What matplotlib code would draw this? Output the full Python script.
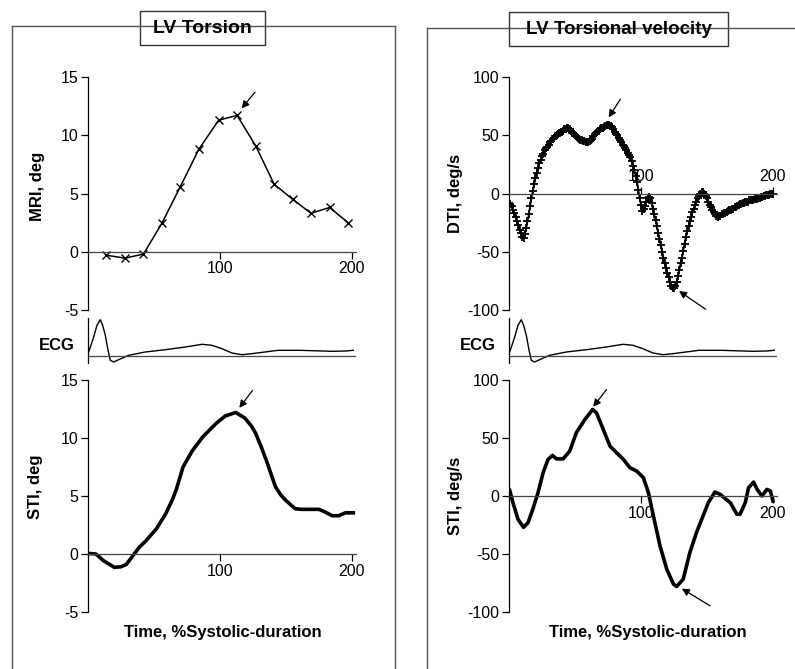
import numpy as np
import matplotlib
matplotlib.use('Agg')
import matplotlib.pyplot as plt
from matplotlib.patches import Rectangle

plt.rcParams['font.family'] = ['Liberation Sans', 'DejaVu Sans']
plt.rcParams['axes.unicode_minus'] = False

W, H = 795, 669

# ---- data ----
mri_x = [14, 28, 42, 56, 70, 84, 99, 113, 127, 141, 155, 169, 183, 197]
mri_y = [-0.3, -0.55, -0.2, 2.45, 5.6, 8.8, 11.3, 11.7, 9.1, 5.8, 4.5, 3.3, 3.8, 2.5]

sti_deg_x = [0, 6, 12, 20, 25, 29, 34, 39, 44, 52, 59, 64, 67, 72, 79, 87, 97,
             104, 112, 119, 124, 127, 131, 135, 142, 146, 150, 157, 162, 167,
             175, 180, 185, 190, 195, 201]
sti_deg_y = [0.05, 0.0, -0.6, -1.15, -1.1, -0.9, -0.15, 0.6, 1.15, 2.2, 3.5,
             4.7, 5.6, 7.5, 8.9, 10.1, 11.25, 11.9, 12.2, 11.7, 11.0, 10.4,
             9.3, 8.1, 5.8, 5.1, 4.6, 3.9, 3.85, 3.85, 3.85, 3.6, 3.3, 3.3,
             3.55, 3.55]

# DTI torsional velocity, one sample per 1 % of systolic duration
dti_x = np.arange(1, 201)
dti_y = [-9, -11, -14, -17, -20, -24, -27, -31, -34, -37,
         -38, -35, -30, -24, -18, -11, -4, 2, 8, 13,
         18, 22, 26, 29, 32, 34, 37, 39, 40, 42,
         44, 45, 47, 48, 49, 50, 51, 52, 52, 53,
         54, 55, 55, 56, 56, 55, 54, 52, 51, 50,
         49, 48, 47, 46, 46, 45, 45, 44, 44, 44,
         45, 46, 47, 49, 51, 52, 53, 54, 55, 56,
         56, 57, 58, 59, 59, 59, 58, 57, 55, 53,
         51, 50, 48, 46, 44, 42, 41, 39, 37, 35,
         33, 31, 28, 24, 20, 15, 10, 3, -4, -10,
         -15, -13, -11, -7, -4, -3, -4, -8, -13, -18,
         -23, -28, -34, -39, -44, -50, -55, -60, -64, -68,
         -72, -76, -79, -81, -81, -79, -76, -71, -66, -60,
         -55, -49, -43, -37, -32, -28, -24, -20, -16, -13,
         -10, -7, -4, -2, 0, 1, 1, 0, -2, -4,
         -7, -10, -12, -14, -16, -18, -19, -20, -19, -19,
         -18, -18, -17, -17, -16, -15, -14, -14, -13, -13,
         -12, -12, -11, -10, -9, -9, -8, -8, -7, -7,
         -7, -6, -6, -6, -6, -5, -5, -5, -4, -4,
         -3, -3, -2, -2, -1, -1, -1, 0, 0, 0]

sti_vel_x = [0.5, 3, 6.8, 11, 14.4, 18, 22, 25.8, 29.6, 33, 36, 41, 46, 51,
             57.5, 61, 63.3, 66.3, 71.4, 76.5, 81.5, 86.6, 91.6, 96.7, 101.8,
             105.6, 109.4, 114.4, 119.5, 124.6, 127, 132, 137, 142, 147, 151,
             156, 160, 163.8, 167.6, 172.7, 175, 179, 181.5, 185.3, 188,
             191.6, 195.4, 198, 200]
sti_vel_y = [5, -5.7, -20, -27, -23, -11.5, 2.9, 20, 31.6, 35, 32, 32, 38.7,
             54.5, 66, 71, 74.6, 71.7, 57.4, 43, 37.3, 31.6, 24.4, 21.5, 15.8,
             2.9, -17.2, -43, -63, -76, -78, -71.7, -48.8, -31.6, -17.2, -5.7,
             3.4, 1.4, -2.3, -5.7, -15.8, -15.8, -5.7, 7.2, 12, 5.7, 0, 5.7,
             4.3, -4.3]

ecg_x = [0, 1.8, 4.3, 6.8, 9.3, 11.1, 13.1, 15.2, 16.9, 19.4, 23.2, 30.8,
         43.4, 58.6, 73.7, 86.4, 93.9, 101.5, 109, 116.7, 124, 134, 144,
         150, 160, 185, 195, 201]
ecg_y = [2.3, 9, 19, 30.7, 36.3, 30.7, 20.7, 5.7, -4.3, -6, -3.7, 0.7,
         4, 6.3, 9, 11.7, 10.7, 7.3, 3, 1.3, 2.3, 4, 5.7, 5.7, 5.7, 4.7,
         5, 5.7]

fig = plt.figure(figsize=(W / 100, H / 100), dpi=100)


def px_axes(left, top, width, height):
    return fig.add_axes([left / W, 1 - (top + height) / H, width / W, height / H])


XW = 264 / 200 * 203  # pixel width for xlim 0..203
LBL = dict(fontsize=12, fontweight='bold')


def setup(ax, ylim, yticks, labels_top=False):
    ax.set_xlim(0, 203)
    ax.set_ylim(*ylim)
    ax.patch.set_alpha(0)
    ax.spines['right'].set_visible(False)
    ax.spines['left'].set_linewidth(0.9)
    if labels_top:
        ax.spines['bottom'].set_visible(False)
        ax.spines['top'].set_position(('data', 0))
        ax.spines['top'].set_linewidth(0.9)
        ax.spines['top'].set_color('#444444')
        ax.xaxis.tick_top()
    else:
        ax.spines['top'].set_visible(False)
        ax.spines['bottom'].set_position(('data', 0))
        ax.spines['bottom'].set_linewidth(0.9)
        ax.spines['bottom'].set_color('#444444')
    ax.set_xticks([100, 200])
    ax.set_yticks(yticks)
    ax.tick_params(labelsize=11.5, length=5, width=0.9, pad=2)


def arrow(ax, head, tail):
    ax.annotate('', xy=head, xytext=tail,
                arrowprops=dict(arrowstyle='-|>', lw=0.9, color='k',
                                mutation_scale=11, shrinkA=0, shrinkB=0),
                annotation_clip=False)


def ecg_axes(left):
    ax = px_axes(left, 318, XW, 45)
    ax.plot(ecg_x, ecg_y, color='k', lw=1.0)
    ax.axhline(0, color='#444444', lw=0.9)
    ax.set_xlim(0, 203)
    ax.set_ylim(-7, 38)
    for s in ['top', 'right', 'bottom']:
        ax.spines[s].set_visible(False)
    ax.spines['left'].set_linewidth(0.9)
    ax.set_xticks([])
    ax.set_yticks([])
    ax.patch.set_alpha(0)
    return ax


# ---- background frames and title boxes ----
bg = fig.add_axes([0, 0, 1, 1])
bg.set_xlim(0, W)
bg.set_ylim(H, 0)
bg.axis('off')
frame = dict(color='#555555', lw=1.0)
bg.plot([12, 12], [26, H], **frame)
bg.plot([12, 395], [26, 26], **frame)
bg.plot([395, 395], [26, H], **frame)
bg.plot([427, 427], [28, H], **frame)
bg.plot([427, W], [28, 28], **frame)
bg.add_patch(Rectangle((140, 11), 125, 34, fc='white', ec='#333333', lw=1.0))
bg.add_patch(Rectangle((509, 12), 219, 34, fc='white', ec='#333333', lw=1.0))
bg.text(202.5, 28.5, 'LV Torsion', ha='center', va='center', fontsize=14,
        fontweight='bold')
bg.text(618.5, 29.5, 'LV Torsional velocity', ha='center', va='center',
        fontsize=13.5, fontweight='bold')

# ---- left: MRI torsion ----
ax1 = px_axes(88, 77, XW, 233)
setup(ax1, (-5, 15), [-5, 0, 5, 10, 15])
ax1.plot(mri_x, mri_y, color='k', lw=1.1, marker='x', ms=6, mew=1.0)
ax1.set_ylabel('MRI, deg', **LBL)
ax1.yaxis.set_label_coords(-43 / XW, 0.53)
arrow(ax1, (116.4, 12.3), (126.5, 13.7))

ecg_axes(88)
fig.text(57 / W, 1 - 345 / H, 'ECG', ha='center', va='center', **LBL)

# ---- left: STI torsion ----
ax2 = px_axes(88, 380, XW, 232)
setup(ax2, (-5, 15), [-5, 0, 5, 10, 15])
ax2.plot(sti_deg_x, sti_deg_y, color='k', lw=2.6)
ax2.set_ylabel('STI, deg', **LBL)
ax2.yaxis.set_label_coords(-45 / XW, 0.54)
arrow(ax2, (114.6, 12.6), (124.6, 14.1))
fig.text(223 / W, 1 - 632 / H, 'Time, %Systolic-duration', ha='center',
         va='center', **LBL)

# ---- right: DTI velocity ----
ax3 = px_axes(509, 77, XW, 233)
setup(ax3, (-100, 100), [-100, -50, 0, 50, 100], labels_top=True)
ax3.plot(dti_x, dti_y, color='k', lw=1.3, marker='+', ms=6, mew=1.3)
ax3.set_ylabel('DTI, deg/s', **LBL)
ax3.yaxis.set_label_coords(-46 / XW, 0.5)
arrow(ax3, (75.5, 65.3), (84.4, 81))
arrow(ax3, (128.8, -83.7), (149, -99.4))

ecg_axes(509)
fig.text(478 / W, 1 - 345 / H, 'ECG', ha='center', va='center', **LBL)

# ---- right: STI velocity ----
ax4 = px_axes(509, 380, XW, 232)
setup(ax4, (-100, 100), [-100, -50, 0, 50, 100])
ax4.plot(sti_vel_x, sti_vel_y, color='k', lw=2.6)
ax4.set_ylabel('STI, deg/s', **LBL)
ax4.yaxis.set_label_coords(-46 / XW, 0.5)
arrow(ax4, (63.8, 76.9), (73.9, 91.8))
arrow(ax4, (130.9, -79.8), (152.4, -94.7))
fig.text(648 / W, 1 - 632 / H, 'Time, %Systolic-duration', ha='center',
         va='center', **LBL)

fig.savefig('out.png', dpi=100)
